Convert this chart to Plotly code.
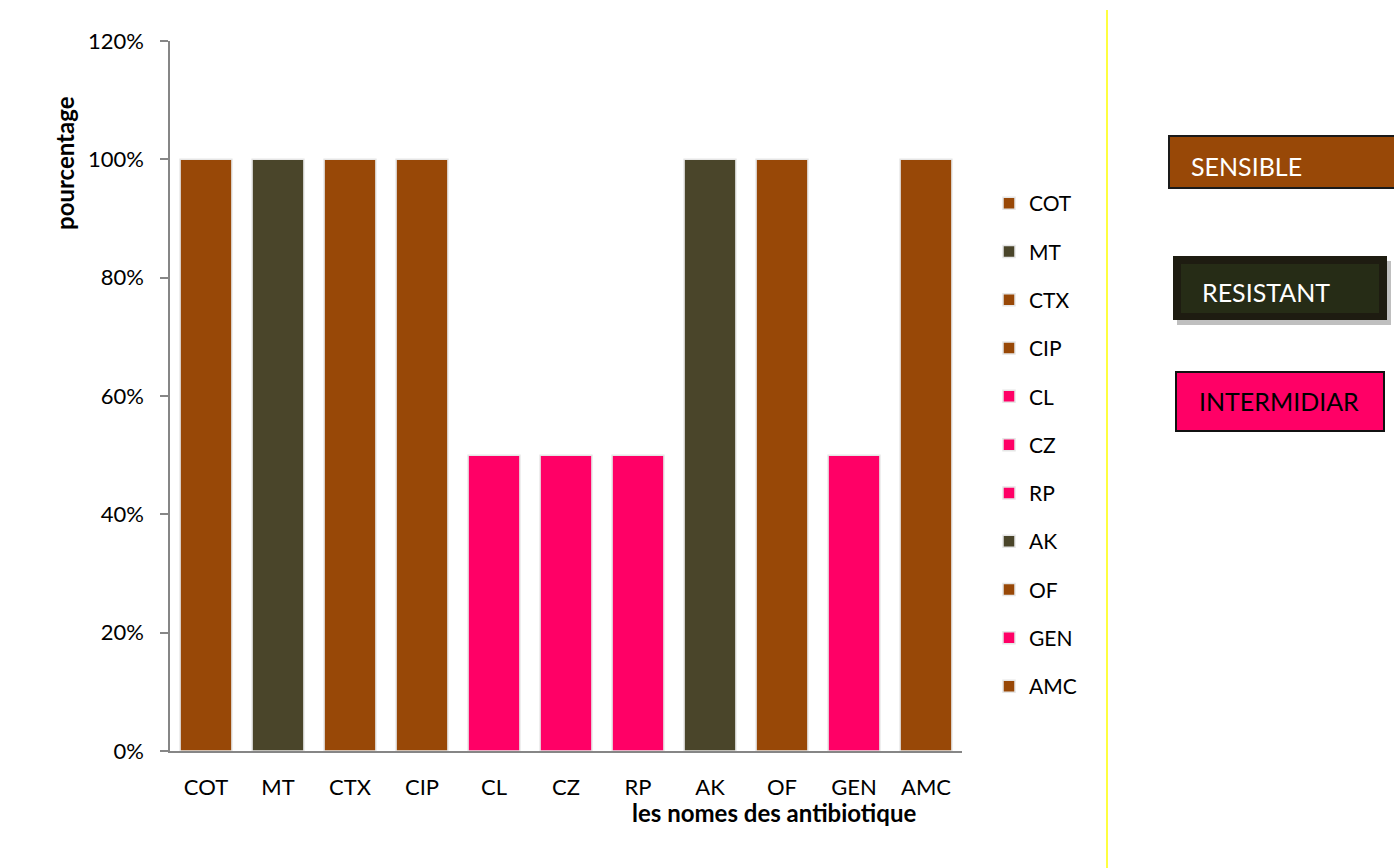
import plotly.graph_objects as go

categories = ["COT", "MT", "CTX", "CIP", "CL", "CZ", "RP", "AK", "OF", "GEN", "AMC"]
values = [1.0, 1.0, 1.0, 1.0, 0.5, 0.5, 0.5, 1.0, 1.0, 0.5, 1.0]
status = ["S", "R", "S", "S", "I", "I", "I", "R", "S", "I", "S"]
status_colors = {"S": "#984807", "R": "#4A452A", "I": "#FF0066"}
legend_boxes = ["SENSIBLE", "RESISTANT", "INTERMIDIAR"]

W, H = 1394, 868
L, R, T, B = 170, 432, 41, 117
pw, ph = W - L - R, H - T - B

def px(x):
    return (x - L) / pw

def py(y):
    return (H - B - y) / ph

FONT = "Lato, Open Sans, sans-serif"

fig = go.Figure()
for i, (c, v, s) in enumerate(zip(categories, values, status)):
    fig.add_trace(go.Bar(
        x=[c], y=[v], name=c, legendgroup=f"g{i}",
        marker=dict(color=status_colors[s], line=dict(color="#e6e6e6", width=1.5)),
        width=0.72,
    ))

shapes = [
    dict(type="line", xref="paper", yref="paper", x0=px(1107), x1=px(1107), y0=py(10), y1=py(868),
         line=dict(color="#FFFF00", width=1.5)),
    dict(type="rect", xref="paper", yref="paper", x0=px(1169), x1=px(1396), y0=py(188), y1=py(136),
         fillcolor="#984807", line=dict(color="#1a1a1a", width=2)),
    dict(type="rect", xref="paper", yref="paper", x0=px(1177), x1=px(1391), y0=py(325), y1=py(261),
         fillcolor="#BFBFBF", line=dict(width=0)),
    dict(type="rect", xref="paper", yref="paper", x0=px(1173), x1=px(1387), y0=py(320), y1=py(256),
         fillcolor="#1E1C11", line=dict(width=0)),
    dict(type="rect", xref="paper", yref="paper", x0=px(1181), x1=px(1379), y0=py(313), y1=py(264),
         fillcolor="#262C16", line=dict(width=0)),
    dict(type="rect", xref="paper", yref="paper", x0=px(1176), x1=px(1384), y0=py(431), y1=py(372),
         fillcolor="#FF0066", line=dict(color="#111111", width=2)),
]

annotations = [
    dict(text="<b>pourcentage</b>", xref="paper", yref="paper", x=px(64), y=py(163),
         textangle=-90, showarrow=False, font=dict(family=FONT, size=24, color="black"),
         xanchor="center", yanchor="middle"),
    dict(text="<b>les nomes des antibiotique</b>", xref="paper", yref="paper", x=px(774), y=py(813),
         showarrow=False, font=dict(family=FONT, size=24, color="black"),
         xanchor="center", yanchor="middle"),
    dict(text=legend_boxes[0], xref="paper", yref="paper", x=px(1189), y=py(166),
         showarrow=False, font=dict(family=FONT, size=25, color="white"),
         xanchor="left", yanchor="middle"),
    dict(text=legend_boxes[1], xref="paper", yref="paper", x=px(1200), y=py(292),
         showarrow=False, font=dict(family=FONT, size=25, color="white"),
         xanchor="left", yanchor="middle"),
    dict(text=legend_boxes[2], xref="paper", yref="paper", x=px(1279), y=py(401),
         showarrow=False, font=dict(family=FONT, size=25, color="black"),
         xanchor="center", yanchor="middle"),
]

fig.update_layout(
    width=W, height=H,
    margin=dict(l=L, r=R, t=T, b=B),
    paper_bgcolor="white", plot_bgcolor="white",
    barmode="overlay",
    font=dict(family=FONT, size=22, color="black"),
    showlegend=True,
    legend=dict(x=px(989), y=py(183), xanchor="left", yanchor="top",
                font=dict(family=FONT, size=21, color="black"),
                tracegroupgap=18, itemwidth=30, bgcolor="rgba(0,0,0,0)"),
    shapes=shapes,
    annotations=annotations,
    xaxis=dict(type="category", categoryorder="array", categoryarray=categories,
               showline=True, linecolor="#868686", linewidth=1.5, ticks="", showgrid=False,
               tickfont=dict(family=FONT, size=22), ticklabelstandoff=16),
    yaxis=dict(range=[0, 1.2], dtick=0.2, tickformat=".0%", showgrid=False,
               showline=True, linecolor="#868686", linewidth=1.5,
               ticks="outside", ticklen=8, tickcolor="#868686", tickwidth=1.5,
               tickfont=dict(family=FONT, size=22), zeroline=False, ticklabelstandoff=12),
)

fig.write_html("out.html")
